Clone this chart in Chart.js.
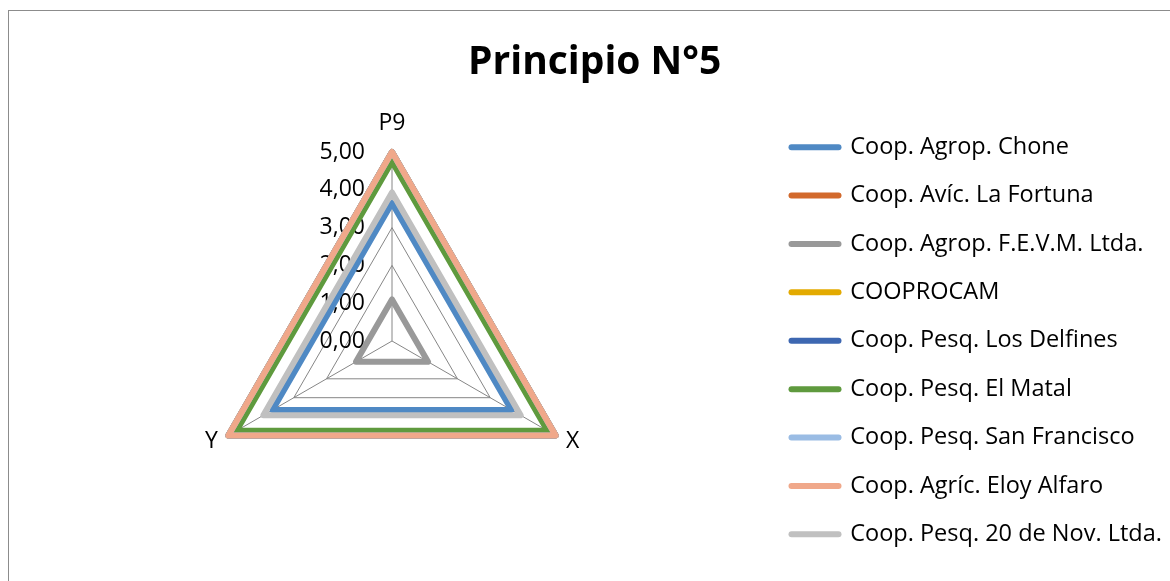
<!DOCTYPE html>
<html>
<head>
<meta charset="utf-8">
<script src="https://cdn.jsdelivr.net/npm/chart.js@4"></script>
<style>
  html, body { margin: 0; padding: 0; background: #fff; overflow: hidden; }
  #frame { position: absolute; left: 8px; top: 10px; width: 1176px; height: 575px; border: 1px solid #8c8c8c; }
  canvas { position: absolute; left: 0; top: 0; }
</style>
</head>
<body>
<div id="frame"><canvas id="radar" width="1176" height="570"></canvas></div>
<script>
// axes of the radar
const axes = ["P9", "X", "Y"];

// cooperatives (legend order)
const coops = [
  "Coop. Agrop. Chone",
  "Coop. Avíc. La Fortuna",
  "Coop. Agrop. F.E.V.M. Ltda.",
  "COOPROCAM",
  "Coop. Pesq. Los Delfines",
  "Coop. Pesq. El Matal",
  "Coop. Pesq. San Francisco",
  "Coop. Agríc. Eloy Alfaro",
  "Coop. Pesq. 20 de Nov. Ltda."
];

// values per cooperative on P9, X, Y
const chone        = [3.65, 3.65, 3.65];
const laFortuna    = [5.00, 5.00, 5.00];
const fevm         = [1.10, 1.10, 1.10];
const cooprocam    = [5.00, 5.00, 5.00];
const losDelfines  = [5.00, 5.00, 5.00];
const elMatal      = [4.75, 4.75, 4.75];
const sanFrancisco = [5.00, 5.00, 5.00];
const eloyAlfaro   = [5.00, 5.00, 5.00];
const veinteNov    = [3.93, 3.93, 3.93];

const seriesValues = [chone, laFortuna, fevm, cooprocam, losDelfines, elMatal, sanFrancisco, eloyAlfaro, veinteNov];
const colors = ["#4f89c4", "#d2692c", "#999999", "#e3aa00", "#3d67b1", "#5f9a3e", "#9abce4", "#f0a88a", "#c0c0c0"];

// radial axis ticks
const tickValues = [0, 1, 2, 3, 4, 5];
const tickLabels = ["0,00", "1,00", "2,00", "3,00", "4,00", "5,00"];

const FONT = "'Open Sans', sans-serif";
const legendSize = 23.5;
const legendPad = 24.9;
const legendLine = 47;

// make the legend sit right of the plot like in the sheet
const mctx = document.createElement("canvas").getContext("2d");
mctx.font = legendSize + "px " + FONT;
const widest = Math.max(...coops.map(t => mctx.measureText(t).width));
const legendW = legendPad + legendLine + legendSize / 2 + widest + 10;
const legendLeft = 757.6;
const padRight = 1176 - legendLeft - legendW;

const sheetLabels = {
  id: "sheetLabels",
  beforeDatasetsDraw(chart) {
    const r = chart.scales.r;
    const ctx = chart.ctx;
    ctx.save();
    ctx.font = "23px " + FONT;
    ctx.fillStyle = "#000";
    ctx.textBaseline = "middle";
    ctx.textAlign = "right";
    tickValues.forEach((v, i) => {
      ctx.fillText(tickLabels[i], r.xCenter - 27, r.yCenter - r.getDistanceFromCenterForValue(v));
    });
    const top = r.getPointPosition(0, r.drawingArea + 29);
    ctx.textAlign = "center";
    ctx.fillText(axes[0], top.x, top.y);
    const right = r.getPointPosition(1, r.drawingArea + 12);
    ctx.textAlign = "left";
    ctx.fillText(axes[1], right.x, right.y);
    const left = r.getPointPosition(2, r.drawingArea + 12);
    ctx.textAlign = "right";
    ctx.fillText(axes[2], left.x, left.y);
    ctx.restore();
  }
};

new Chart(document.getElementById("radar"), {
  type: "radar",
  data: {
    labels: axes,
    datasets: coops.map((name, i) => ({
      label: name,
      data: seriesValues[i],
      borderColor: colors[i],
      backgroundColor: colors[i],
      borderWidth: 6,
      borderJoinStyle: "round",
      fill: false,
      pointRadius: 0,
      pointHoverRadius: 0,
      order: coops.length - i
    }))
  },
  options: {
    responsive: false,
    animation: false,
    devicePixelRatio: 1,
    layout: { padding: { left: 8.4, right: padRight, top: 0, bottom: 10 } },
    scales: {
      r: {
        min: 0,
        max: 5,
        ticks: { display: false, stepSize: 1 },
        pointLabels: { display: false },
        grid: { color: "#868686", lineWidth: 1 },
        angleLines: { color: "#868686", lineWidth: 1 }
      }
    },
    plugins: {
      title: {
        display: true,
        text: "Principio N°5",
        color: "#000",
        font: { family: FONT, size: 39, weight: "bold" },
        padding: { top: 28, bottom: 66.2 }
      },
      subtitle: {
        display: true,
        text: "",
        position: "bottom",
        font: { size: 10, lineHeight: 1 },
        padding: { top: 0, bottom: 31 }
      },
      legend: {
        position: "right",
        align: "end",
        labels: {
          color: "#000",
          font: { family: FONT, size: legendSize },
          padding: legendPad,
          usePointStyle: true,
          pointStyleWidth: legendLine,
          generateLabels: chart => chart.data.datasets.map((ds, i) => ({
            text: ds.label,
            strokeStyle: ds.borderColor,
            fillStyle: ds.borderColor,
            lineWidth: 6,
            lineCap: "round",
            pointStyle: "line",
            hidden: false,
            datasetIndex: i
          }))
        }
      },
      tooltip: { enabled: false }
    }
  },
  plugins: [sheetLabels]
});
</script>
</body>
</html>
